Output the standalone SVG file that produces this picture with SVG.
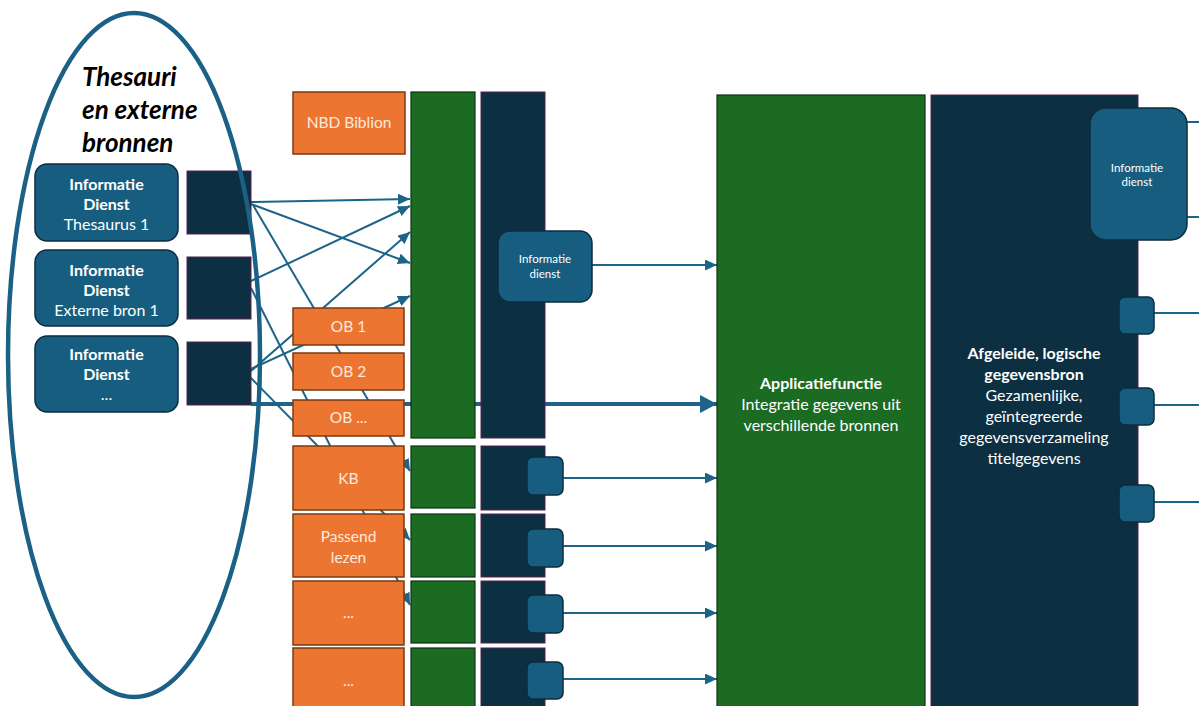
<svg xmlns="http://www.w3.org/2000/svg" width="1199" height="706" viewBox="0 0 1199 706">
<defs>
<style>
.t{font-family:Lato,"Open Sans","Liberation Sans",sans-serif}
.info{fill:#175d80;stroke:#0c2c3f;stroke-width:1.5}
.dark{fill:#0c2f42;stroke:#5b1f50;stroke-width:1}
.org{fill:#ec7532;stroke:#7a3a12;stroke-width:1.5}
.grn{fill:#1c6b23;stroke:#0d3311;stroke-width:1.2}
.ot{fill:#fde9dc;font-size:15.5px;text-anchor:middle}
.wt{fill:#ffffff;font-size:16px;text-anchor:middle}
.wb{font-weight:bold}
.c{stroke:#1d6488;stroke-width:2;fill:none;marker-end:url(#ah)}
.cn{stroke:#1d6488;stroke-width:2;fill:none}
</style>
<marker id="ah" markerUnits="userSpaceOnUse" markerWidth="13" markerHeight="11" refX="12" refY="5.5" orient="auto"><path d="M0,0 L12,5.5 L0,11 z" fill="#1d6488"/></marker>
<marker id="ahb" markerUnits="userSpaceOnUse" markerWidth="18" markerHeight="18" refX="17" refY="9" orient="auto"><path d="M0,0 L17,9 L0,18 z" fill="#1d6488"/></marker>
</defs>
<rect width="1199" height="706" fill="#ffffff"/>

<g id="connectors">
<line class="c" x1="251" y1="202" x2="410" y2="199"/>
<line class="c" x1="251" y1="204" x2="410" y2="263"/>
<line class="c" x1="251" y1="281" x2="410" y2="206"/>
<line class="c" x1="251" y1="371" x2="410" y2="232"/>
<line class="c" x1="251" y1="369" x2="410" y2="296"/>
<line class="c" x1="253" y1="205" x2="410" y2="471"/>
<line class="c" x1="251" y1="288" x2="410" y2="605"/>
<line class="c" x1="251" y1="378" x2="410" y2="540"/>
<line stroke="#1d6488" stroke-width="4" fill="none" marker-end="url(#ahb)" x1="251" y1="404" x2="717" y2="404"/>
<line class="c" x1="592" y1="265" x2="717" y2="265"/>
<line class="c" x1="563" y1="478" x2="717" y2="478"/>
<line class="c" x1="563" y1="546" x2="717" y2="546"/>
<line class="c" x1="563" y1="613" x2="717" y2="613"/>
<line class="c" x1="563" y1="679" x2="717" y2="679"/>
<line class="cn" x1="1187" y1="122" x2="1199" y2="122"/>
<line class="cn" x1="1187" y1="217" x2="1199" y2="217"/>
<line class="cn" x1="1154" y1="313" x2="1199" y2="313"/>
<line class="cn" x1="1154" y1="405" x2="1199" y2="405"/>
<line class="cn" x1="1154" y1="502" x2="1199" y2="502"/>
</g>

<g id="left-info-1"><rect class="info" x="35" y="164" width="143" height="77" rx="12"/>
<text class="t wt" x="106.5" y="190"><tspan class="wb">Informatie</tspan><tspan class="wb" x="106.5" dy="20">Dienst</tspan><tspan x="106.5" dy="20">Thesaurus 1</tspan></text></g>
<g id="left-info-2"><rect class="info" x="35" y="250" width="143" height="76" rx="12"/>
<text class="t wt" x="106.5" y="276"><tspan class="wb">Informatie</tspan><tspan class="wb" x="106.5" dy="20">Dienst</tspan><tspan x="106.5" dy="20">Externe bron 1</tspan></text></g>
<g id="left-info-3"><rect class="info" x="35" y="336" width="143" height="76" rx="12"/>
<text class="t wt" x="106.5" y="360"><tspan class="wb">Informatie</tspan><tspan class="wb" x="106.5" dy="20">Dienst</tspan><tspan x="106.5" dy="20">...</tspan></text></g>

<g id="left-sq-1"><rect class="dark" x="187" y="171" width="64" height="63"/></g>
<g id="left-sq-2"><rect class="dark" x="187" y="257" width="64" height="62"/></g>
<g id="left-sq-3"><rect class="dark" x="187" y="342" width="64" height="63"/></g>

<g id="org-nbd"><rect class="org" x="293" y="92" width="112" height="62"/><text class="t ot" x="349" y="128">NBD Biblion</text></g>
<g id="org-ob1"><rect class="org" x="293" y="308" width="111" height="37"/><text class="t ot" x="348.5" y="332">OB 1</text></g>
<g id="org-ob2"><rect class="org" x="293" y="353" width="111" height="37"/><text class="t ot" x="348.5" y="377">OB 2</text></g>
<g id="org-obx"><rect class="org" x="293" y="400" width="111" height="36"/><text class="t ot" x="348.5" y="423">OB ...</text></g>
<g id="org-kb"><rect class="org" x="293" y="446" width="111" height="64"/><text class="t ot" x="348.5" y="484">KB</text></g>
<g id="org-pl"><rect class="org" x="293" y="514" width="111" height="63"/><text class="t ot" x="348.5" y="542">Passend<tspan x="348.5" dy="21">lezen</tspan></text></g>
<g id="org-x1"><rect class="org" x="293" y="581" width="111" height="64"/><text class="t ot" x="348.5" y="618">...</text></g>
<g id="org-x2"><rect class="org" x="293" y="648" width="111" height="64"/><text class="t ot" x="348.5" y="686">...</text></g>

<g id="green-col"><rect class="grn" x="411" y="92" width="64" height="346"/></g>
<g id="green-1"><rect class="grn" x="411" y="446" width="64" height="62"/></g>
<g id="green-2"><rect class="grn" x="411" y="514" width="64" height="63"/></g>
<g id="green-3"><rect class="grn" x="411" y="581" width="64" height="62"/></g>
<g id="green-4"><rect class="grn" x="411" y="648" width="64" height="64"/></g>

<g id="dark-col"><rect class="dark" x="481" y="92" width="64" height="346"/></g>
<g id="dark-1"><rect class="dark" x="481" y="446" width="64" height="64"/></g>
<g id="dark-2"><rect class="dark" x="481" y="514" width="64" height="63"/></g>
<g id="dark-3"><rect class="dark" x="481" y="581" width="64" height="62"/></g>
<g id="dark-4"><rect class="dark" x="481" y="648" width="64" height="64"/></g>

<g id="mid-info"><rect class="info" x="498" y="231" width="94" height="71" rx="12"/>
<text class="t" fill="#ffffff" font-size="11.5" text-anchor="middle" x="545" y="263">Informatie<tspan x="545" dy="15">dienst</tspan></text></g>

<g id="port-1"><rect class="info" x="527" y="457" width="36" height="38" rx="6"/></g>
<g id="port-2"><rect class="info" x="527" y="529" width="36" height="38" rx="6"/></g>
<g id="port-3"><rect class="info" x="527" y="595" width="36" height="38" rx="6"/></g>
<g id="port-4"><rect class="info" x="527" y="662" width="36" height="37" rx="6"/></g>

<g id="applicatiefunctie"><rect class="grn" x="717" y="95" width="208" height="620"/>
<text class="t wt" x="821" y="389"><tspan class="wb">Applicatiefunctie</tspan><tspan x="821" dy="21">Integratie gegevens uit</tspan><tspan x="821" dy="21">verschillende bronnen</tspan></text></g>

<g id="gegevensbron"><rect class="dark" x="931" y="95" width="207" height="620"/>
<text class="t wt" x="1034" y="359"><tspan class="wb">Afgeleide, logische</tspan><tspan class="wb" x="1034" dy="21">gegevensbron</tspan><tspan x="1034" dy="21">Gezamenlijke,</tspan><tspan x="1034" dy="21">geïntegreerde</tspan><tspan x="1034" dy="21">gegevensverzameling</tspan><tspan x="1034" dy="21">titelgegevens</tspan></text></g>

<g id="right-info"><rect class="info" x="1090" y="108" width="97" height="132" rx="16"/>
<text class="t" fill="#ffffff" font-size="11.5" text-anchor="middle" x="1137" y="172">Informatie<tspan x="1137" dy="14">dienst</tspan></text></g>
<g id="right-port-1"><rect class="info" x="1119" y="297" width="35" height="37" rx="6"/></g>
<g id="right-port-2"><rect class="info" x="1119" y="388" width="35" height="37" rx="6"/></g>
<g id="right-port-3"><rect class="info" x="1119" y="485" width="35" height="37" rx="6"/></g>

<g id="thesauri-group">
<ellipse cx="134" cy="355" rx="126" ry="342" fill="none" stroke="#1a6185" stroke-width="4.5"/>
<text class="t" font-weight="bold" font-style="italic" font-size="26" fill="#000000" x="82" y="86">Thesauri<tspan x="82" dy="33">en externe</tspan><tspan x="82" dy="33">bronnen</tspan></text>
</g>
</svg>
